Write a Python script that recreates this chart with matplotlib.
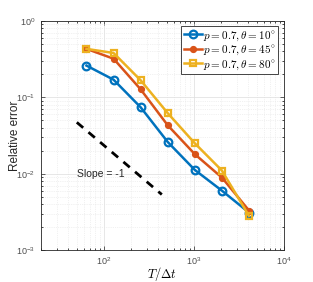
import matplotlib
matplotlib.use('Agg')
import matplotlib.pyplot as plt

plt.rcParams['mathtext.fontset'] = 'cm'
plt.rcParams['font.family'] = 'Liberation Sans'

steps = [64, 128, 256, 512, 1024, 2048, 4096]
err_10 = [0.26, 0.17, 0.074, 0.026, 0.0112, 0.006, 0.0031]
err_45 = [0.43, 0.32, 0.127, 0.043, 0.018, 0.0089, 0.0033]
err_80 = [0.43, 0.38, 0.167, 0.062, 0.025, 0.011, 0.0028]
labels = [r'$p=0.7,\theta=10^{\circ}$', r'$p=0.7,\theta=45^{\circ}$', r'$p=0.7,\theta=80^{\circ}$']

ref_x = [50, 440]
ref_y = [2.35 / v for v in ref_x]

fig = plt.figure(figsize=(3.13, 2.82), dpi=100)
ax = fig.add_axes([0.131, 0.113, 0.776, 0.813])

ax.loglog(steps, err_10, '-o', color='#0072BD', lw=1.8, ms=5.5, mfc='none', mew=1.6, label=labels[0])
ax.loglog(steps, err_45, '-o', color='#D95319', lw=1.8, ms=4, mew=1.2, label=labels[1])
ax.loglog(steps, err_80, '-s', color='#EDB120', lw=1.8, ms=5, mfc='none', mew=1.6, label=labels[2])
ax.loglog(ref_x, ref_y, '--', color='k', lw=2, dashes=(3, 2.5))
ax.text(50, 0.01, 'Slope = -1', fontsize=7.5, va='center', ha='left', color='#262626')

ax.set_xlim(20, 1e4)
ax.set_ylim(1e-3, 1)
ax.grid(True, which='major', color='#dddddd', lw=0.5)
ax.grid(True, which='minor', color='#e4e4e4', lw=0.5, ls=':')
ax.tick_params(which='both', direction='in', top=True, right=True, labelsize=6.5, width=0.5)
ax.tick_params(axis='both', labelcolor='#4d4d4d', color='#262626')
ax.tick_params(which='major', length=3, pad=4)
ax.tick_params(which='minor', length=1.5)
for s in ax.spines.values():
    s.set_color('#262626')
    s.set_linewidth(0.6)

ax.set_xlabel(r'$T/\Delta t$', fontsize=9, labelpad=-2)
ax.set_ylabel('Relative error', fontsize=8.5, color='#262626', va='center')
ax.yaxis.set_label_coords(-0.107, 0.5)
leg = ax.legend(loc='upper right', fontsize=8, handlelength=1.6, handletextpad=0.1,
                borderpad=0.25, labelspacing=0.1, fancybox=False, framealpha=1, borderaxespad=0.5)
leg.get_frame().set_edgecolor('#262626')
leg.get_frame().set_linewidth(0.6)

fig.savefig('out.png', dpi=100)
